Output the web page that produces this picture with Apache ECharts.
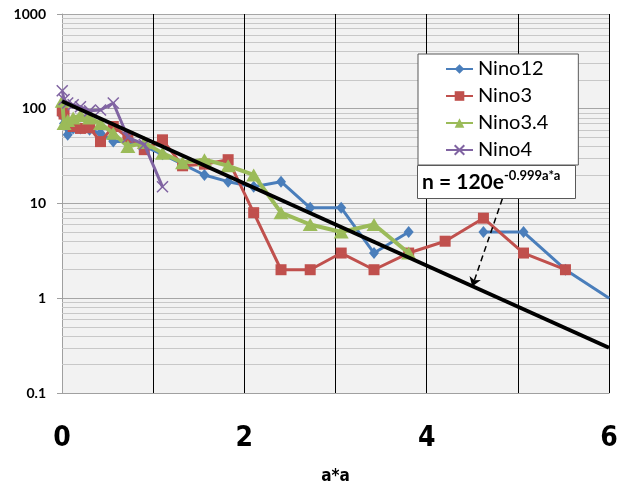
<!DOCTYPE html>
<html>
<head>
<meta charset="utf-8">
<script src="https://cdn.jsdelivr.net/npm/echarts@6/dist/echarts.min.js"></script>
<style>html,body{margin:0;padding:0;background:#fff}#c{width:624px;height:486px}</style>
</head>
<body>
<div id="c"></div>
<script>
// x positions (a*a) of the bins
var aSquared = [0.0025, 0.0225, 0.0625, 0.1225, 0.2025, 0.3025, 0.4225, 0.5625, 0.7225, 0.9025,
  1.1025, 1.3225, 1.5625, 1.8225, 2.1025, 2.4025, 2.7225, 3.0625, 3.4225, 3.8025,
  4.2025, 4.6225, 5.0625, 5.5225, 6.0025];
var nino12 = [85, 70, 53, 62, 62, 60, 55, 45, 45, 40, 33, 26, 20, 17, 15, 17, 9, 9, 3, 5, null, 5, 5, 2, 1];
var nino3 = [95, 88, 70, 65, 62, 63, 45, 65, 50, 37, 47, 25, 26, 29, 8, 2, 2, 3, 2, 3, 4, 7, 3, 2];
var nino34 = [120, 70, 75, 80, 85, 80, 70, 55, 40, 44, 34, 27, 29, 25, 20, 8, 6, 5, 6, 3];
var nino4 = [155, 125, 115, 110, 105, 95, 97, 115, 50, 42, 15];
var fitLine = [[0, 120], [6, 0.3]];
var arrowFrom = [4.83, 11.2];
var arrowTo = [4.5, 1.33];
var yMajorTicks = [0.1, 1, 10, 100, 1000];
var yMinorFactors = [2, 3, 4, 5, 6, 7, 8, 9];
var xGridValues = [1, 2, 3, 4, 5, 6];
var xTickLabels = ['0', '', '2', '', '4', '', '6'];

function pairs(vals) {
  return vals.map(function (v, i) { return [aSquared[i], v == null ? '-' : v]; });
}
var gridLines = [];
yMajorTicks.slice(0, -1).forEach(function (d) {
  yMinorFactors.forEach(function (m) { gridLines.push({ yAxis: +(d * m).toPrecision(3) }); });
});
xGridValues.forEach(function (x) {
  gridLines.push({ xAxis: x, lineStyle: { color: '#000000', width: 1, type: 'solid' } });
});

var chart = echarts.init(document.getElementById('c'), null, { renderer: 'canvas' });
var lw = 3;
chart.setOption({
  animation: false,
  backgroundColor: '#ffffff',
  grid: { left: 62, right: 15, top: 14, bottom: 93, backgroundColor: '#f2f2f2', show: true, borderWidth: 0,
    containLabel: false, outerBoundsMode: 'none' },
  xAxis: {
    type: 'value', min: 0, max: 6, interval: 1,
    axisLine: { show: true, onZero: false, lineStyle: { color: '#a0a0a0', width: 1 } },
    axisTick: { show: false },
    splitLine: { show: false },
    axisLabel: {
      margin: 32, fontSize: 28, fontWeight: 'bold', color: '#000',
      fontFamily: "'Liberation Sans Narrow', 'DejaVu Sans Condensed', sans-serif",
      formatter: function (v) { return xTickLabels[Math.round(v)]; }
    },
    name: 'a*a', nameLocation: 'middle', nameGap: 75,
    nameTextStyle: { fontSize: 17, fontWeight: 'bold', color: '#000',
      fontFamily: "'Liberation Sans Narrow', 'DejaVu Sans Condensed', sans-serif" }
  },
  yAxis: {
    type: 'log', logBase: 10, min: 0.1, max: 1000,
    axisLine: { show: true, lineStyle: { color: '#a0a0a0', width: 1 } },
    axisTick: { show: true, length: 5, lineStyle: { color: '#a0a0a0' } },
    splitLine: { show: true, lineStyle: { color: '#a6a6a6', width: 1, type: 'solid' } },
    axisLabel: { margin: 16, fontSize: 14, fontWeight: 'bold', color: '#000', fontFamily: 'Lato',
      formatter: function (v) { return String(+v.toPrecision(3)); } }
  },
  legend: {
    orient: 'vertical', left: 418, top: 54, z: 50,
    padding: [5, 30, 5, 27], itemGap: 7, itemWidth: 27, itemHeight: 12,
    backgroundColor: '#ffffff', borderColor: '#595959', borderWidth: 1,
    textStyle: { fontSize: 20, color: '#000', fontFamily: 'Lato' },
    data: ['Nino12', 'Nino3', 'Nino3.4', 'Nino4']
  },
  series: [
    {
      name: 'grid', type: 'line', data: [], z: 1, silent: true,
      markLine: { silent: true, symbol: 'none', animation: false, label: { show: false }, z: 1,
        lineStyle: { color: '#c8c8c8', width: 1, type: 'solid' }, data: gridLines }
    },
    {
      name: 'Nino12', type: 'line', data: pairs(nino12), z: 3, connectNulls: false,
      symbol: 'diamond', symbolSize: [10, 12],
      lineStyle: { color: '#4a7ebb', width: lw }, itemStyle: { color: '#4a7ebb' }
    },
    {
      name: 'Nino3', type: 'line', data: pairs(nino3), z: 4,
      symbol: 'rect', symbolSize: 11,
      lineStyle: { color: '#c0504d', width: lw }, itemStyle: { color: '#c0504d' }
    },
    {
      name: 'Nino3.4', type: 'line', data: pairs(nino34), z: 5,
      symbol: 'triangle', symbolSize: [15, 13],
      lineStyle: { color: '#9bbb59', width: 4 }, itemStyle: { color: '#9bbb59' }
    },
    {
      name: 'Nino4', type: 'line', data: pairs(nino4), z: 6,
      symbol: 'path://M0,0L10,10M10,0L0,10', symbolSize: 11,
      lineStyle: { color: '#8064a2', width: lw },
      itemStyle: { color: 'rgba(0,0,0,0)', borderColor: '#8064a2', borderWidth: 1.5 }
    },
    {
      name: 'fit', type: 'line', data: fitLine, z: 7, symbol: 'none',
      lineStyle: { color: '#000', width: 4 },
      markLine: {
        silent: true, animation: false, symbol: ['none', 'arrow'], symbolSize: 9,
        label: { show: false },
        lineStyle: { color: '#000', width: 1.5, type: [6, 4] },
        data: [[{ coord: arrowFrom }, { coord: arrowTo }]]
      }
    }
  ],
  graphic: [
    { type: 'rect', left: 417, top: 165, z: 100,
      shape: { width: 158, height: 33 },
      style: { fill: '#fff', stroke: '#595959', lineWidth: 1 } },
    { type: 'text', left: 422, top: 172, z: 101,
      style: { text: 'n = 120e', fontSize: 21, fontWeight: 'bold', fontFamily: 'Lato', fill: '#000' } },
    { type: 'text', left: 504, top: 169, z: 101,
      style: { text: '-0.999a*a', fontSize: 13, fontWeight: 'bold', fontFamily: 'Lato', fill: '#000' } }
  ]
});
</script>
</body>
</html>
